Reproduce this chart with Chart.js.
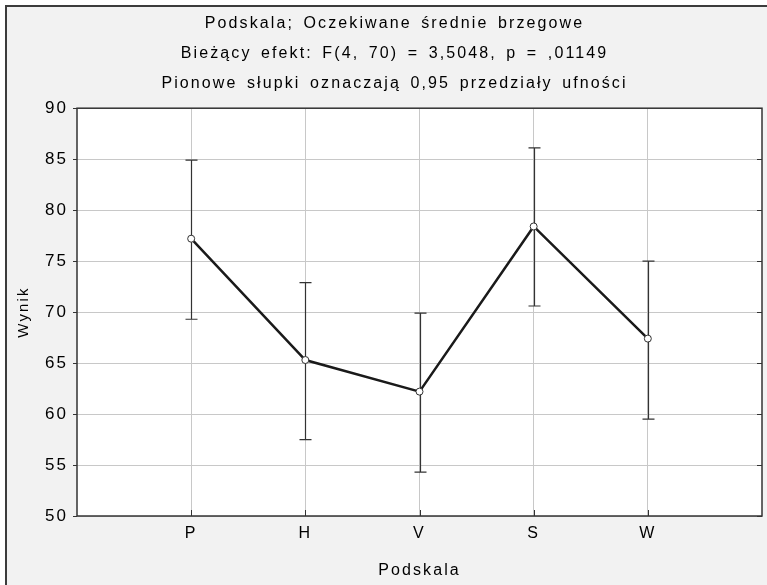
<!DOCTYPE html>
<html>
<head>
<meta charset="utf-8">
<script src="https://cdn.jsdelivr.net/npm/chart.js@4"></script>
<style>
  html, body { margin: 0; padding: 0; background: #fff; }
  #wrap { position: relative; width: 767px; height: 585px; overflow: hidden; }
  #frame { position: absolute; left: 5px; top: 5px; width: 800px; height: 600px; background: #f2f2f2; border-left: 2px solid #3c3c3c; border-top: 2px solid #3c3c3c; }
  #c { position: absolute; left: 0; top: 0; }
</style>
</head>
<body>
<div id="wrap">
  <div id="frame"></div>
  <canvas id="c" width="767" height="585"></canvas>
</div>
<script>
// Podskala — marginal means with 0.95 confidence intervals
const CATEGORIES = ['P', 'H', 'V', 'S', 'W'];
const MEANS = [77.2, 65.3, 62.2, 78.4, 67.4];
const CI_UPPER = [84.9, 72.9, 69.9, 86.1, 75.0];
const CI_LOWER = [69.3, 57.5, 54.3, 70.6, 59.5];
const Y_MIN = 50, Y_MAX = 90, Y_STEP = 5;
const TITLE_LINES = [
  'Podskala; Oczekiwane średnie brzegowe',
  'Bieżący efekt: F(4, 70) = 3,5048, p = ,01149',
  'Pionowe słupki oznaczają 0,95 przedziały ufności',
];

const FONT = 'Liberation Sans, Arial, sans-serif';
const LETTER_SP = '2.1px';
const WORD_SP = '3px';

// wide Statistica-style text on the canvas context
const spacingPlugin = {
  id: 'spacing',
  beforeLayout(chart) { chart.ctx.letterSpacing = LETTER_SP; chart.ctx.wordSpacing = WORD_SP; },
  beforeDraw(chart) { chart.ctx.letterSpacing = LETTER_SP; chart.ctx.wordSpacing = WORD_SP; },
};

// white plot area + dark frame with small inner ticks
const plotFrame = {
  id: 'plotFrame',
  beforeDraw(chart) {
    const { ctx, chartArea: a } = chart;
    ctx.save();
    ctx.fillStyle = '#fff';
    ctx.fillRect(a.left, a.top, a.right - a.left, a.bottom - a.top);
    ctx.restore();
  },
  afterDraw(chart) {
    const { ctx, chartArea: a, scales } = chart;
    ctx.save();
    ctx.strokeStyle = '#333';
    ctx.lineWidth = 1.5;
    ctx.strokeRect(a.left, a.top, a.right - a.left, a.bottom - a.top);
    ctx.lineWidth = 1;
    ctx.beginPath();
    scales.y.ticks.forEach((t) => {
      const y = Math.round(scales.y.getPixelForValue(t.value)) + 0.5;
      ctx.moveTo(a.right - 5, y); ctx.lineTo(a.right, y);
    });
    scales.x.ticks.forEach((t) => {
      if (t.value < 1 || t.value > CATEGORIES.length) return;
      const x = Math.round(scales.x.getPixelForValue(t.value)) + 0.5;
      ctx.moveTo(x, a.bottom - 6); ctx.lineTo(x, a.bottom);
    });
    ctx.stroke();
    ctx.restore();
  },
};

// vertical whiskers for the confidence intervals
const errorBars = {
  id: 'errorBars',
  beforeDatasetsDraw(chart) {
    const { ctx, scales: { x, y } } = chart;
    ctx.save();
    ctx.strokeStyle = '#333';
    ctx.lineWidth = 1.2;
    CATEGORIES.forEach((_, i) => {
      const px = Math.round(x.getPixelForValue(i + 1)) + 0.5;
      const top = y.getPixelForValue(CI_UPPER[i]);
      const bot = y.getPixelForValue(CI_LOWER[i]);
      ctx.beginPath();
      ctx.moveTo(px, top); ctx.lineTo(px, bot);
      ctx.moveTo(px - 6, top); ctx.lineTo(px + 6, top);
      ctx.moveTo(px - 6, bot); ctx.lineTo(px + 6, bot);
      ctx.stroke();
    });
    ctx.restore();
  },
};

new Chart(document.getElementById('c'), {
  type: 'line',
  data: {
    datasets: [{
      data: MEANS.map((m, i) => ({ x: i + 1, y: m })),
      borderColor: '#1a1a1a',
      borderWidth: 2.5,
      pointRadius: 3.5,
      pointBorderWidth: 1,
      pointBorderColor: '#333',
      pointBackgroundColor: '#fff',
      tension: 0,
    }],
  },
  options: {
    responsive: false,
    animation: false,
    devicePixelRatio: 1,
    layout: { padding: { left: 23, right: 1, top: 0, bottom: 0 } },
    plugins: {
      legend: { display: false },
      tooltip: { enabled: false },
      title: {
        display: true,
        text: TITLE_LINES,
        color: '#000',
        font: { family: FONT, size: 16, weight: 'normal', lineHeight: 1.9 },
        padding: { top: 8, bottom: 9 },
      },
    },
    scales: {
      x: {
        type: 'linear',
        min: 0,
        max: CATEGORIES.length + 1,
        afterBuildTicks(s) { s.ticks = CATEGORIES.map((_, i) => ({ value: i + 1 })); },
        afterFit(s) { s.height = 69; },
        ticks: {
          stepSize: 1,
          padding: 8,
          color: '#000',
          font: { family: FONT, size: 16 },
          callback: (v) => CATEGORIES[v - 1] ?? '',
        },
        grid: { color: '#c8c8c8', lineWidth: 1, drawTicks: false },
        border: { display: false },
        title: {
          display: true,
          text: 'Podskala',
          color: '#000',
          font: { family: FONT, size: 16 },
          padding: { top: 0, bottom: 5 },
        },
      },
      y: {
        min: Y_MIN,
        max: Y_MAX,
        afterFit(s) { s.width = 54; },
        ticks: {
          stepSize: Y_STEP,
          padding: 5,
          color: '#000',
          font: { family: FONT, size: 17 },
        },
        grid: { color: '#c8c8c8', lineWidth: 1, tickLength: 4, tickColor: '#333' },
        border: { display: false },
        title: {
          display: true,
          text: 'Wynik',
          color: '#000',
          font: { family: FONT, size: 15 },
          padding: { top: -8, bottom: 0 },
        },
      },
    },
  },
  plugins: [spacingPlugin, plotFrame, errorBars],
});
</script>
</body>
</html>
